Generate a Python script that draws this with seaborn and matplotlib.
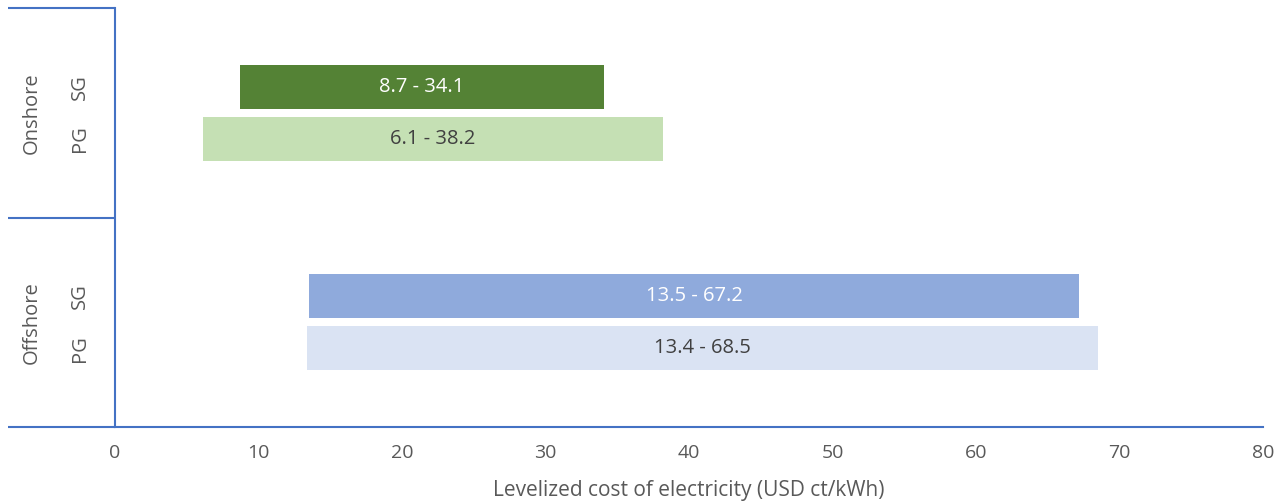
import matplotlib
matplotlib.use("Agg")
import matplotlib.pyplot as plt
import seaborn as sns
import pandas as pd

# Levelized cost ranges (USD ct/kWh) by wind type and grid setting
groups = ["Onshore", "Onshore", "Offshore", "Offshore"]
settings = ["SG", "PG", "SG", "PG"]
low = [8.7, 6.1, 13.5, 13.4]
high = [34.1, 38.2, 67.2, 68.5]
bar_colors = ["#548235", "#C5E0B4", "#8FAADC", "#DAE3F3"]
text_colors = ["white", "#404040", "white", "#404040"]
slots = [1, 2, 5, 6]          # row positions within the 8-row category band
x_ticks = [0, 10, 20, 30, 40, 50, 60, 70, 80]

df = pd.DataFrame({"group": groups, "setting": settings, "low": low,
                   "high": high, "slot": slots})
df["span"] = df["high"] - df["low"]

sns.set_theme(style="white")
plt.rcParams["font.family"] = ["Open Sans", "DejaVu Sans"]

axis_blue = "#4472C4"
grey = "#595959"

fig = plt.figure(figsize=(12.84, 5.04), dpi=100)
ax = fig.add_axes([115 / 1284, 1 - 427 / 504, 1148 / 1284, 419 / 504])

ax.barh(df["slot"] + 0.5, df["span"], left=df["low"], height=0.84,
        color=bar_colors, edgecolor="none")

for i, r in df.iterrows():
    ax.text((r["low"] + r["high"]) / 2, r["slot"] + 0.5,
            f"{r['low']:.1f} - {r['high']:.1f}", ha="center", va="center",
            fontsize=14.5, color=text_colors[i])

ax.set_xlim(0, 80)
ax.set_ylim(8, 0)
ax.set_xticks(x_ticks)
ax.set_yticks([])
ax.tick_params(axis="x", direction="in", length=4, width=1.3,
               color=axis_blue, labelcolor=grey, labelsize=14, pad=12)
ax.set_xlabel("Levelized cost of electricity (USD ct/kWh)", fontsize=15,
              color=grey, labelpad=13)

for side in ["top", "right"]:
    ax.spines[side].set_visible(False)
for side in ["left", "bottom"]:
    ax.spines[side].set_color(axis_blue)
    ax.spines[side].set_linewidth(1.5)

# multi-level category frame to the left of the axis
left_edge = -107 / 1148
for yy in [0, 0.5, 1.0]:
    ax.plot([left_edge, 0], [yy, yy], transform=ax.transAxes, color=axis_blue,
            lw=1.5, clip_on=False, solid_capstyle="butt")

tr = ax.get_yaxis_transform()
for g, center in [("Onshore", 2.0), ("Offshore", 6.0)]:
    ax.text(-83 / 1148, center, g, transform=tr,
            rotation=90, ha="center", va="center", fontsize=14.5, color=grey)
for i, r in df.iterrows():
    ax.text(-35 / 1148, r["slot"] + 0.5, r["setting"], transform=tr,
            rotation=90, ha="center", va="center", fontsize=14.5, color=grey)

fig.savefig("out.png", dpi=100)
